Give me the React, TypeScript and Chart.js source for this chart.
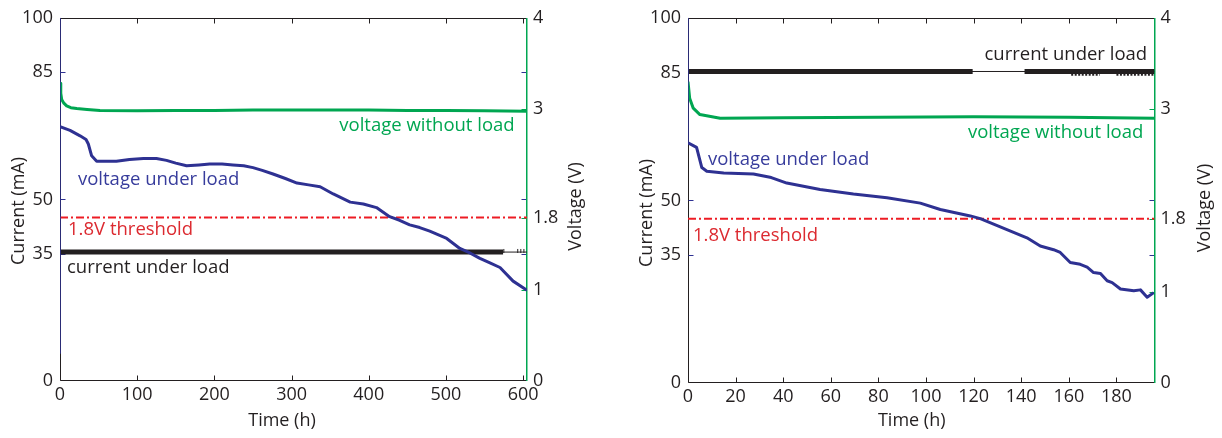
import React, { useEffect, useRef } from 'react';
import { Chart, registerables } from 'chart.js';

Chart.register(...registerables);

// ---------- colours / fonts ----------
const BLUE = '#2e3192';
const BLUE_TEXT = '#373c9c';
const GREEN = '#00a651';
const RED = '#ed1c24';
const RED_TEXT = '#dc2a30';
const BLACK = '#231f20';
const FONT = '"Open Sans", "DejaVu Sans", sans-serif';

// ---------- tick labels ----------
const currentTicks = [0, 35, 50, 85, 100];
const voltageTicks = [0, 1, 1.8, 3, 4];
const leftTimeTicks = [0, 100, 200, 300, 400, 500, 600];
const rightTimeTicks = [0, 20, 40, 60, 80, 100, 120, 140, 160, 180];
const thresholdVoltage = 1.8;

// ---------- left panel data ----------
const leftTimeMax = 605;
const leftUnderLoadTime = [0, 13, 26, 33.7, 36.7, 41, 47.5, 60, 73, 90, 108, 125, 138, 150, 164, 180, 194, 210, 224, 238, 250, 262, 276, 292, 307, 322, 337, 354, 376, 393, 410, 427, 440, 453, 466, 479, 501, 518, 531, 544, 557, 570, 587, 605];
const leftUnderLoadVolt = [2.80, 2.76, 2.70, 2.66, 2.61, 2.48, 2.42, 2.42, 2.42, 2.44, 2.45, 2.45, 2.43, 2.40, 2.37, 2.38, 2.39, 2.39, 2.38, 2.37, 2.35, 2.32, 2.28, 2.23, 2.18, 2.16, 2.14, 2.06, 1.97, 1.95, 1.91, 1.81, 1.77, 1.72, 1.69, 1.65, 1.57, 1.46, 1.41, 1.35, 1.30, 1.25, 1.10, 1.00];
const leftSpikeTime = [0, 0];
const leftSpikeVolt = [0.3, 4];
const leftNoLoadTime = [0, 1, 2.2, 5, 8.6, 14, 21.6, 35, 51.8, 100, 150, 200, 250, 300, 350, 400, 450, 500, 550, 605];
const leftNoLoadVolt = [3.28, 3.17, 3.10, 3.06, 3.03, 3.01, 3.00, 2.99, 2.98, 2.975, 2.98, 2.98, 2.985, 2.985, 2.985, 2.985, 2.98, 2.98, 2.975, 2.97];
const leftCurrentBandTime = [0, 574];
const leftCurrentBandValue = [35.5, 35.5];
const leftCurrentLineTime = [0, 605];
const leftCurrentLineValue = [35.5, 35.5];
const leftCurrentBlipTime = [575, 593, 597, 601];
const leftCurrentBlipValue = [35.8, 35.8, 35.8, 35.8];

// ---------- right panel data ----------
const rightTimeMax = 196;
const rightUnderLoadTime = [0, 3.6, 5.8, 7.9, 15, 27.5, 35, 41.5, 55.5, 69.5, 83.6, 97.6, 106, 118.6, 122.8, 142.4, 148, 153.6, 156.4, 160.6, 164.8, 167.7, 170.4, 173.3, 176.1, 178.2, 181.7, 187.3, 190.1, 192.9, 195.7];
const rightUnderLoadVolt = [2.63, 2.58, 2.36, 2.32, 2.30, 2.29, 2.25, 2.19, 2.12, 2.07, 2.03, 1.97, 1.90, 1.83, 1.80, 1.59, 1.50, 1.46, 1.43, 1.32, 1.30, 1.27, 1.21, 1.20, 1.12, 1.10, 1.03, 1.01, 1.02, 0.94, 0.99];
const rightSpikeTime = [0, 0];
const rightSpikeVolt = [2.63, 4];
const rightNoLoadTime = [0, 0.7, 2.2, 5, 13.5, 40, 80, 120, 160, 196];
const rightNoLoadVolt = [3.30, 3.12, 3.01, 2.94, 2.90, 2.905, 2.91, 2.915, 2.91, 2.90];
const rightCurrentBandTime = [0, 119.6, 119.7, 141.4, 196];
const rightCurrentBandValue = [85.3, 85.3, null, 85.3, 85.3];
const rightCurrentLineTime = [0, 196];
const rightCurrentLineValue = [85.3, 85.3];
const rightCurrentLowTime = [161, 173, 173.5, 180, 196];
const rightCurrentLowValue = [84.5, 84.5, null, 84.5, 84.5];

const W = 611;
const H = 438;

const pts = (xs: number[], ys: (number | null)[]) => xs.map((x, i) => ({ x, y: ys[i] }));

type Note = { text: string; x: number; y: number; axis: 'y' | 'y2'; align: CanvasTextAlign; color: string };
type Title = { text: string; x: number; y: number; rotate: boolean };
type PanelCfg = {
  area: { left: number; right: number; top: number; bottom: number };
  xMax: number;
  xTicks: number[];
  datasets: any[];
  notes: Note[];
  titles: Title[];
};

const lineDs = (data: any[], color: string, width: number, axis: 'y' | 'y2', extra: any = {}) => ({
  data,
  borderColor: color,
  backgroundColor: color,
  borderWidth: width,
  yAxisID: axis,
  pointRadius: 0,
  fill: false,
  tension: 0,
  spanGaps: false,
  borderJoinStyle: 'round',
  ...extra,
});

const leftCfg: PanelCfg = {
  area: { left: 60, right: 527, top: 14, bottom: 381 },
  xMax: leftTimeMax,
  xTicks: leftTimeTicks,
  datasets: [
    lineDs(pts(leftUnderLoadTime, leftUnderLoadVolt), BLUE, 3, 'y2'),
    lineDs(pts(leftSpikeTime, leftSpikeVolt), BLUE, 1.5, 'y2'),
    lineDs(pts(leftNoLoadTime, leftNoLoadVolt), GREEN, 3, 'y2'),
    lineDs(pts([0, leftTimeMax], [thresholdVoltage, thresholdVoltage]), RED, 2, 'y2', { borderDash: [8, 3, 2, 3], borderJoinStyle: 'miter' }),
    lineDs(pts(leftCurrentBandTime, leftCurrentBandValue), BLACK, 5, 'y'),
    lineDs(pts(leftCurrentLineTime, leftCurrentLineValue), BLACK, 1, 'y'),
    lineDs(pts(leftCurrentBlipTime, leftCurrentBlipValue), BLACK, 1, 'y', { showLine: false, pointRadius: 2, pointStyle: 'line', rotation: 90, pointBorderColor: BLACK, pointBorderWidth: 1 }),
  ],
  notes: [
    { text: 'voltage without load', x: 589, y: 2.81, axis: 'y2', align: 'right', color: GREEN },
    { text: 'voltage under load', x: 23.3, y: 2.22, axis: 'y2', align: 'left', color: BLUE_TEXT },
    { text: '1.8V threshold', x: 10.4, y: 1.67, axis: 'y2', align: 'left', color: RED_TEXT },
    { text: 'current under load', x: 9, y: 31.1, axis: 'y', align: 'left', color: BLACK },
  ],
  titles: [
    { text: 'Current (mA)', x: 19, y: 211, rotate: true },
    { text: 'Voltage (V)', x: 576, y: 206.5, rotate: true },
    { text: 'Time (h)', x: 282, y: 421, rotate: false },
  ],
};

const rightCfg: PanelCfg = {
  area: { left: 77, right: 543.5, top: 16, bottom: 383 },
  xMax: rightTimeMax,
  xTicks: rightTimeTicks,
  datasets: [
    lineDs(pts(rightUnderLoadTime, rightUnderLoadVolt), BLUE, 3, 'y2'),
    lineDs(pts(rightSpikeTime, rightSpikeVolt), BLUE, 1.5, 'y2'),
    lineDs(pts(rightNoLoadTime, rightNoLoadVolt), GREEN, 3, 'y2'),
    lineDs(pts([0, rightTimeMax], [thresholdVoltage, thresholdVoltage]), RED, 2, 'y2', { borderDash: [8, 3, 2, 3], borderJoinStyle: 'miter' }),
    lineDs(pts(rightCurrentBandTime, rightCurrentBandValue), BLACK, 5, 'y'),
    lineDs(pts(rightCurrentLowTime, rightCurrentLowValue), BLACK, 2.5, 'y', { borderDash: [2, 1.5] }),
    lineDs(pts(rightCurrentLineTime, rightCurrentLineValue), BLACK, 1, 'y'),
  ],
  notes: [
    { text: 'current under load', x: 192.9, y: 89.9, axis: 'y', align: 'right', color: BLACK },
    { text: 'voltage without load', x: 191.3, y: 2.74, axis: 'y2', align: 'right', color: GREEN },
    { text: 'voltage under load', x: 8.4, y: 2.45, axis: 'y2', align: 'left', color: BLUE_TEXT },
    { text: '1.8V threshold', x: 2.1, y: 1.61, axis: 'y2', align: 'left', color: RED_TEXT },
  ],
  titles: [
    { text: 'Current (mA)', x: 36, y: 213, rotate: true },
    { text: 'Voltage (V)', x: 594, y: 208, rotate: true },
    { text: 'Time (h)', x: 300.7, y: 421, rotate: false },
  ],
};

function makeDecor(cfg: PanelCfg) {
  return {
    id: 'panelDecor',
    beforeDatasetsDraw(chart: any) {
      const { ctx, chartArea } = chart;
      const x = chart.scales.x, y = chart.scales.y, y2 = chart.scales.y2;
      const L = Math.round(chartArea.left) + 0.5;
      const R = Math.round(chartArea.right) - 0.5;
      const T = Math.round(chartArea.top) + 0.5;
      const B = Math.round(chartArea.bottom) - 0.5;
      const seg = (a: number, b: number, c: number, d: number) => { ctx.beginPath(); ctx.moveTo(a, b); ctx.lineTo(c, d); ctx.stroke(); };
      ctx.save();
      ctx.lineWidth = 1;
      ctx.strokeStyle = BLACK;
      seg(L, B, R, B);
      seg(L, T, R, T);
      seg(L, T, L, B);
      const tl = 5;
      cfg.xTicks.forEach((v) => {
        const px = Math.round(x.getPixelForValue(v)) + 0.5;
        seg(px, B, px, B - tl);
        seg(px, T, px, T + tl);
      });
      ctx.strokeStyle = BLUE;
      currentTicks.forEach((v) => {
        if (v === 0 || v === 100) return;
        const py = Math.round(y.getPixelForValue(v)) + 0.5;
        seg(L, py, L + tl, py);
        seg(R, py, R - tl, py);
      });
      ctx.strokeStyle = GREEN;
      voltageTicks.forEach((v) => {
        if (v === 0 || v === 4) return;
        const py = Math.round(y2.getPixelForValue(v)) + 0.5;
        seg(R, py, R - tl, py);
      });
      ctx.lineWidth = 1.5;
      seg(R + 0.25, T - 0.5, R + 0.25, B + 0.5);
      ctx.restore();
    },
    afterDatasetsDraw(chart: any) {
      const { ctx } = chart;
      const x = chart.scales.x;
      ctx.save();
      ctx.textBaseline = 'middle';
      ctx.font = `18.5px ${FONT}`;
      cfg.notes.forEach((n) => {
        const sc = chart.scales[n.axis];
        ctx.fillStyle = n.color;
        ctx.textAlign = n.align;
        ctx.fillText(n.text, x.getPixelForValue(n.x), sc.getPixelForValue(n.y));
      });
      ctx.font = `18px ${FONT}`;
      ctx.fillStyle = BLACK;
      ctx.textAlign = 'center';
      cfg.titles.forEach((t) => {
        ctx.save();
        ctx.translate(t.x, t.y);
        if (t.rotate) ctx.rotate(-Math.PI / 2);
        ctx.fillText(t.text, 0, 0);
        ctx.restore();
      });
      ctx.restore();
    },
  };
}

function buildConfig(cfg: PanelCfg): any {
  const tickFont = { family: FONT, size: 18 };
  const common = {
    grid: { display: false, drawTicks: false },
    border: { display: false },
  };
  return {
    type: 'line',
    data: { datasets: cfg.datasets },
    plugins: [makeDecor(cfg)],
    options: {
      responsive: false,
      animation: false,
      events: [],
      parsing: true,
      layout: { padding: { top: cfg.area.top, left: 0, right: 0, bottom: 0 } },
      plugins: { legend: { display: false }, tooltip: { enabled: false } },
      scales: {
        x: {
          ...common,
          type: 'linear',
          position: 'bottom',
          min: 0,
          max: cfg.xMax,
          afterBuildTicks: (s: any) => { s.ticks = cfg.xTicks.map((v) => ({ value: v })); },
          afterFit: (s: any) => { s.height = H - cfg.area.bottom; },
          ticks: { font: tickFont, color: BLACK, padding: 3, maxRotation: 0, autoSkip: false, callback: (v: any) => String(v) },
        },
        y: {
          ...common,
          type: 'linear',
          position: 'left',
          min: 0,
          max: 100,
          afterBuildTicks: (s: any) => { s.ticks = currentTicks.map((v) => ({ value: v })); },
          afterFit: (s: any) => { s.width = cfg.area.left; },
          ticks: { font: tickFont, color: BLACK, padding: 7, autoSkip: false, callback: (v: any) => String(v) },
        },
        y2: {
          ...common,
          type: 'linear',
          position: 'right',
          min: 0,
          max: 4,
          afterBuildTicks: (s: any) => { s.ticks = voltageTicks.map((v) => ({ value: v })); },
          afterFit: (s: any) => { s.width = W - cfg.area.right; },
          ticks: { font: tickFont, color: BLACK, padding: 6, autoSkip: false, callback: (v: any) => String(v) },
        },
      },
    },
  };
}

function Panel({ cfg, left }: { cfg: PanelCfg; left: number }) {
  const ref = useRef<HTMLCanvasElement>(null);
  useEffect(() => {
    if (!ref.current) return;
    const chart = new Chart(ref.current, buildConfig(cfg));
    return () => chart.destroy();
  }, [cfg]);
  return (
    <canvas
      ref={ref}
      width={W}
      height={H}
      style={{ position: 'absolute', left, top: 0, width: W, height: H, display: 'block' }}
    />
  );
}

export default function App() {
  return (
    <div style={{ position: 'absolute', left: 0, top: 0, width: 1222, height: 438, background: '#ffffff', overflow: 'hidden' }}>
      <Panel cfg={leftCfg} left={0} />
      <Panel cfg={rightCfg} left={611} />
    </div>
  );
}
